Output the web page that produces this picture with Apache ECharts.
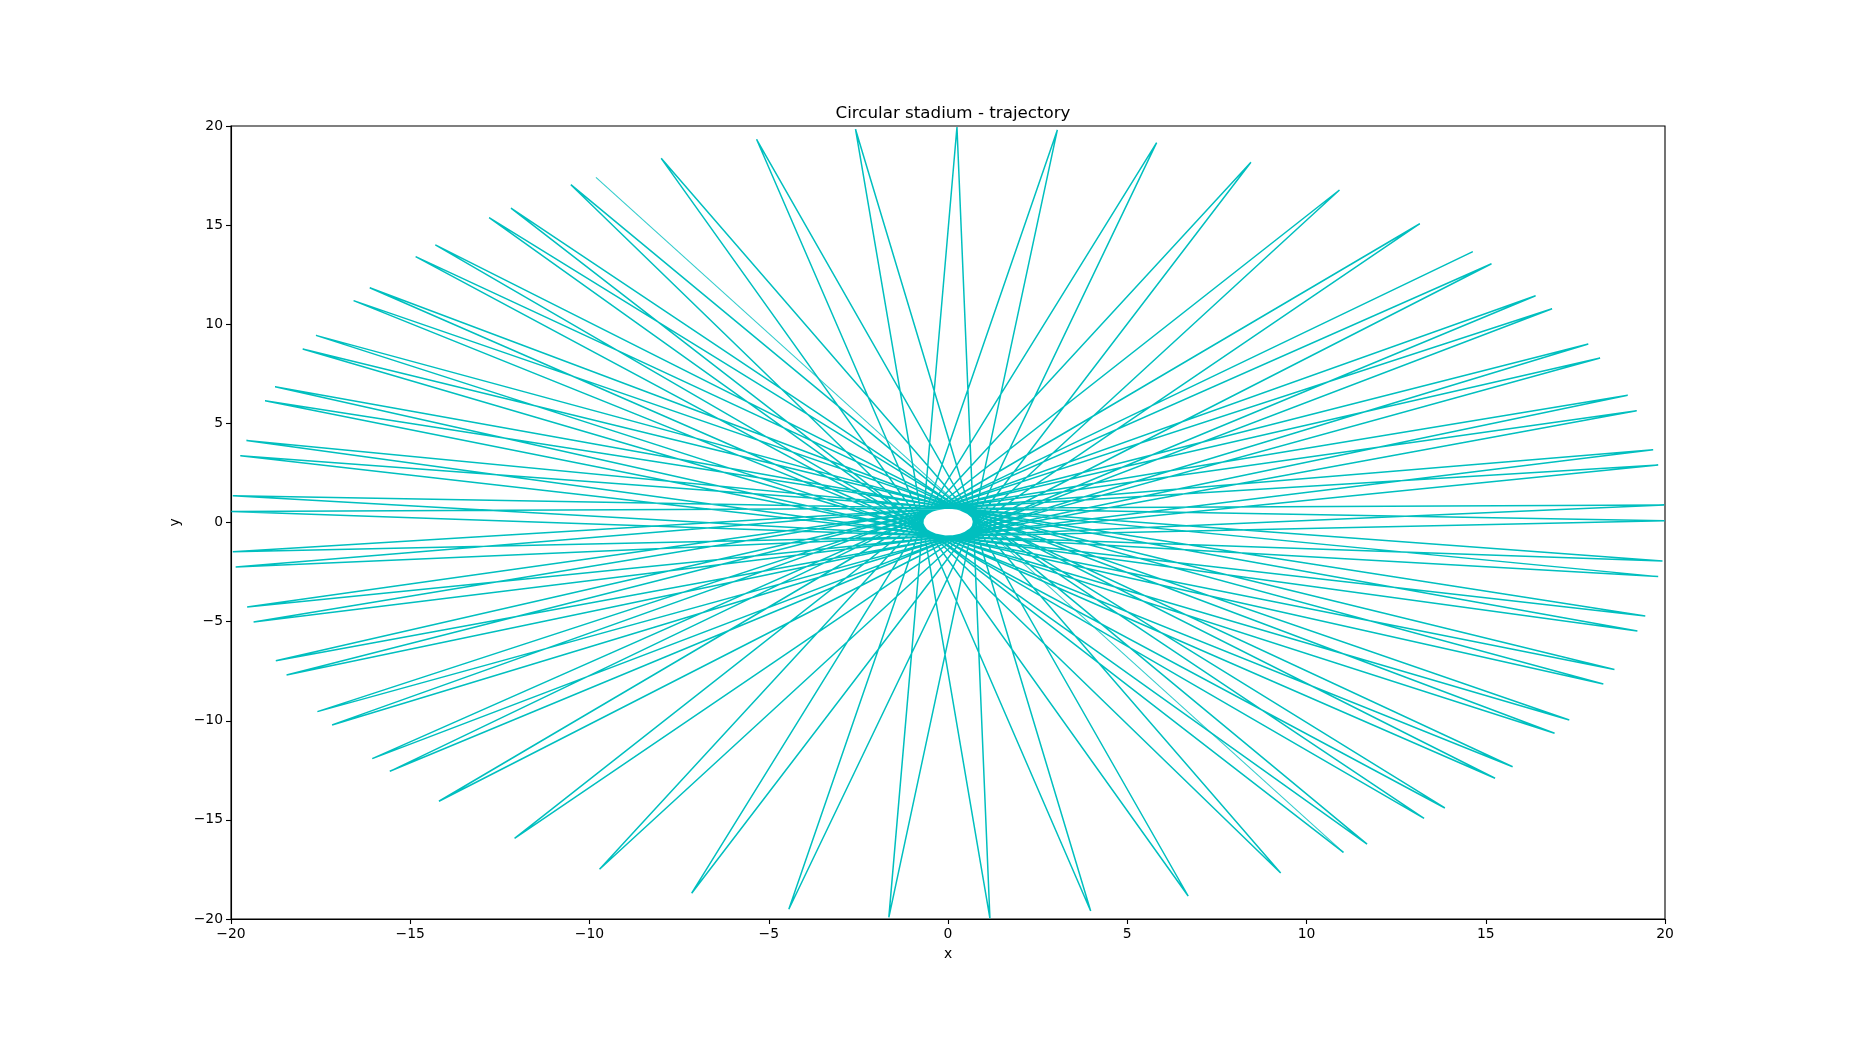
<!DOCTYPE html>
<html>
<head>
<meta charset="utf-8">
<script src="https://cdn.jsdelivr.net/npm/echarts@6/dist/echarts.min.js"></script>
<style>
html,body{margin:0;padding:0;background:#fff;}
#chart{width:1850px;height:1050px;}
</style>
</head>
<body>
<div id="chart"></div>
<script>
// Bounce points of the trajectory, in order
var xs = [-9.82, 11.03, -12.19, 13.28, -14.3, 15.26, -16.13, 16.92, -17.63, 18.28,
          -18.77, 19.23, -19.57, 19.81, -19.95, 19.99, -19.95, 19.81, -19.55, 19.21,
          -18.75, 18.19, -17.59, 16.85, -16.06, 15.16, -14.2, 13.16, -12.09, 10.92,
          -9.72, 8.45, -7.15, 5.82, -4.44, 3.05, -1.65, 0.25, 1.17, -2.58,
          3.98, -5.34, 6.7, -8.0, 9.28, -10.52, 11.69, -12.8, 13.86, -14.85,
          15.75, -16.58, 17.33, -18.0, 18.59, -19.05, 19.45, -19.74, 19.93, -19.99,
          19.98, -19.87, 19.67, -19.37, 18.96, -18.45, 17.86, -17.18, 16.39, -15.57,
          14.64];
var ys = [17.41, -16.64, 15.86, -14.92, 14.0, -12.9, 11.84, -10.63, 9.44, -8.15,
          6.85, -5.47, 4.14, -2.73, 1.35, 0.09, -1.47, 2.9, -4.26, 5.64,
          -6.97, 8.3, -9.54, 10.78, -11.91, 13.05, -14.06, 15.07, -15.93, 16.77,
          -17.49, 18.17, -18.7, 19.16, -19.51, 19.8, -19.92, 19.95, -19.97, 19.84,
          -19.6, 19.33, -18.84, 18.37, -17.68, 17.04, -16.22, 15.38, -14.4, 13.41,
          -12.32, 11.19, -9.96, 8.75, -7.42, 6.14, -4.72, 3.37, -1.94, 0.55,
          0.88, -2.25, 3.67, -5.02, 6.42, -7.69, 9.0, -10.21, 11.44, -12.55,
          13.66];
var lightCount = 2; // first chord drawn with a fainter stroke in the picture
var xTicks = [-20, -15, -10, -5, 0, 5, 10, 15, 20];
var yTicks = [-20, -15, -10, -5, 0, 5, 10, 15, 20];
var titleText = 'Circular stadium - trajectory';

var pts = xs.map(function (x, i) { return [x, ys[i]]; });
var font = 'DejaVu Sans';
var chart = echarts.init(document.getElementById('chart'), null, {renderer: 'canvas'});
chart.setOption({
  animation: false,
  backgroundColor: '#ffffff',
  title: {
    text: titleText, left: 948, top: 100, textAlign: 'center',
    textStyle: {fontFamily: font, fontSize: 16.7, fontWeight: 'normal', color: '#000'}
  },
  grid: {left: 231, right: 185, top: 126, bottom: 131, show: true,
         borderColor: '#000', borderWidth: 1.1, backgroundColor: 'transparent'},
  xAxis: {
    type: 'value', min: xTicks[0], max: xTicks[xTicks.length - 1], interval: 5,
    name: 'x', nameLocation: 'middle', nameGap: 28,
    nameTextStyle: {fontFamily: font, fontSize: 13.9, color: '#000'},
    axisLine: {show: true, onZero: false, lineStyle: {color: '#000', width: 1.1}},
    axisTick: {show: true, inside: false, length: 5, lineStyle: {color: '#000', width: 1.1}},
    axisLabel: {fontFamily: font, fontSize: 13.9, color: '#000', margin: 8,
      formatter: function (v) { return v < 0 ? '\u2212' + Math.abs(v) : String(v); }},
    splitLine: {show: false}
  },
  yAxis: {
    type: 'value', min: yTicks[0], max: yTicks[yTicks.length - 1], interval: 5,
    name: 'y', nameLocation: 'middle', nameGap: 47, nameRotate: 90,
    nameTextStyle: {fontFamily: font, fontSize: 13.9, color: '#000'},
    axisLine: {show: true, onZero: false, lineStyle: {color: '#000', width: 1.1}},
    axisTick: {show: true, inside: false, length: 5, lineStyle: {color: '#000', width: 1.1}},
    axisLabel: {fontFamily: font, fontSize: 13.9, color: '#000', margin: 8,
      formatter: function (v) { return v < 0 ? '\u2212' + Math.abs(v) : String(v); }},
    splitLine: {show: false}
  },
  series: [{
    type: 'line', data: pts.slice(0, lightCount), showSymbol: false, symbol: 'none', clip: true,
    lineStyle: {color: '#00bfbf', width: 1.1, opacity: 0.8}
  }, {
    type: 'line', data: pts.slice(lightCount - 1), showSymbol: false, symbol: 'none', clip: true,
    lineStyle: {color: '#00bfbf', width: 1.5}
  }]
});
</script>
</body>
</html>
